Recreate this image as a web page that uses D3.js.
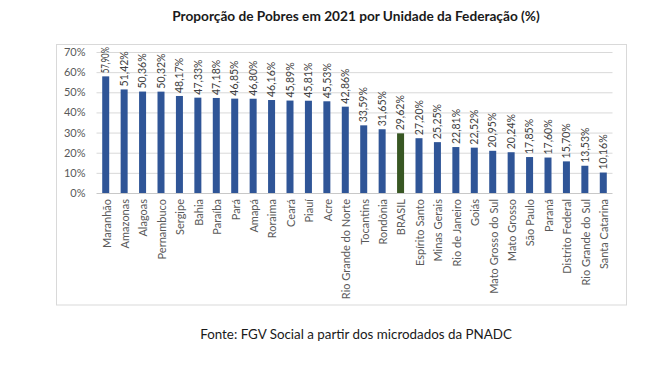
<!DOCTYPE html>
<html>
<head>
<meta charset="utf-8">
<script src="https://cdn.jsdelivr.net/npm/d3@7"></script>
<style>
  html, body { margin: 0; padding: 0; background: #ffffff; }
  svg { display: block; }
  text { font-family: "Lato", "Open Sans", "Liberation Sans", sans-serif; }
</style>
</head>
<body>
<svg id="chart" width="664" height="390"></svg>
<script>
const title = "Proporção de Pobres em 2021 por Unidade da Federação (%)";
const source = "Fonte: FGV Social a partir dos microdados da PNADC";

const categories = [
  "Maranhão", "Amazonas", "Alagoas", "Pernambuco", "Sergipe", "Bahia", "Paraíba",
  "Pará", "Amapá", "Roraima", "Ceará", "Piauí", "Acre", "Rio Grande do Norte",
  "Tocantins", "Rondônia", "BRASIL", "Espírito Santo", "Minas Gerais",
  "Rio de Janeiro", "Goiás", "Mato Grosso do Sul", "Mato Grosso", "São Paulo",
  "Paraná", "Distrito Federal", "Rio Grande do Sul", "Santa Catarina"
];
const values = [
  57.90, 51.42, 50.36, 50.32, 48.17, 47.33, 47.18,
  46.85, 46.80, 46.16, 45.89, 45.81, 45.53, 42.86,
  33.59, 31.65, 29.62, 27.20, 25.25,
  22.81, 22.52, 20.95, 20.24, 17.85,
  17.60, 15.70, 13.53, 10.16
];
const highlight = ["BRASIL"];
const yTicks = [0, 10, 20, 30, 40, 50, 60, 70];

const data = categories.map((c, i) => ({ cat: c, val: values[i] }));

const svg = d3.select("#chart");

// fit a text element's font size so its width matches a target
function fitWidth(sel, target) {
  const node = sel.node();
  const fs = parseFloat(sel.style("font-size"));
  const len = node.getComputedTextLength();
  if (len > 0) sel.style("font-size", (fs * target / len).toFixed(2) + "px");
}

// chart frame
svg.append("rect")
  .attr("x", 56.5).attr("y", 44.5)
  .attr("width", 570).attr("height", 260.5)
  .attr("fill", "#ffffff").attr("stroke", "#d9d9d9").attr("stroke-width", 1);

const plot = { left: 96.5, right: 612.5, top: 52, bottom: 193 };

const x = d3.scaleBand()
  .domain(categories)
  .range([plot.left, plot.right])
  .paddingInner(0.62).paddingOuter(0.31);

const y = d3.scaleLinear()
  .domain([0, 70])
  .range([plot.bottom, plot.top]);

// y axis with gridlines
const yAxis = svg.append("g")
  .attr("transform", `translate(${plot.left},0)`)
  .call(d3.axisLeft(y).tickValues(yTicks).tickFormat(d => d + "%")
        .tickSize(-(plot.right - plot.left)).tickPadding(11));
yAxis.select(".domain").remove();
yAxis.selectAll(".tick line")
  .attr("stroke", d => d === 0 ? "#c8c8c8" : "#d9d9d9")
  .attr("stroke-width", 1);
yAxis.selectAll(".tick text")
  .attr("fill", "#595959")
  .style("font-size", "11px");

// bars
svg.append("g").selectAll("rect")
  .data(data)
  .join("rect")
  .attr("x", d => x(d.cat))
  .attr("width", x.bandwidth())
  .attr("y", d => y(d.val))
  .attr("height", d => y(0) - y(d.val))
  .attr("fill", d => highlight.includes(d.cat) ? "#385723" : "#2F5597");

// value labels
const fmt = v => v.toFixed(2).replace(".", ",") + "%";
svg.append("g").selectAll("text")
  .data(data)
  .join("text")
  .attr("transform", d => `translate(${x(d.cat) + x.bandwidth() / 2},${y(d.val) - 3}) rotate(-90)`)
  .attr("dy", "0.35em")
  .attr("text-anchor", "start")
  .attr("fill", "#404040")
  .style("font-size", "10.5px")
  .text(d => fmt(d.val))
  .each(function () {
    // keep label inside the chart frame
    const len = this.getComputedTextLength();
    const d = d3.select(this).datum();
    const start = y(d.val) - 3;
    if (start - len < 47) {
      d3.select(this).attr("textLength", start - 47).attr("lengthAdjust", "spacingAndGlyphs");
    }
  });

// category labels
const xAxis = svg.append("g")
  .attr("transform", `translate(0,${plot.bottom})`)
  .call(d3.axisBottom(x).tickSize(0).tickPadding(0));
xAxis.select(".domain").remove();
xAxis.selectAll(".tick text")
  .attr("transform", "translate(1,6) rotate(-90)")
  .attr("x", 0).attr("y", 0)
  .attr("dy", "0.35em")
  .attr("text-anchor", "end")
  .attr("fill", "#595959")
  .style("font-size", "11px");

// title
const t = svg.append("text")
  .attr("x", 356).attr("y", 21)
  .attr("text-anchor", "middle")
  .attr("fill", "#1a1a1a")
  .style("font-size", "13px")
  .style("font-weight", "bold")
  .text(title);
fitWidth(t, 368);

// source
const s = svg.append("text")
  .attr("x", 356).attr("y", 339)
  .attr("text-anchor", "middle")
  .attr("fill", "#1a1a1a")
  .style("font-size", "13px")
  .text(source);
fitWidth(s, 312);
</script>
</body>
</html>
